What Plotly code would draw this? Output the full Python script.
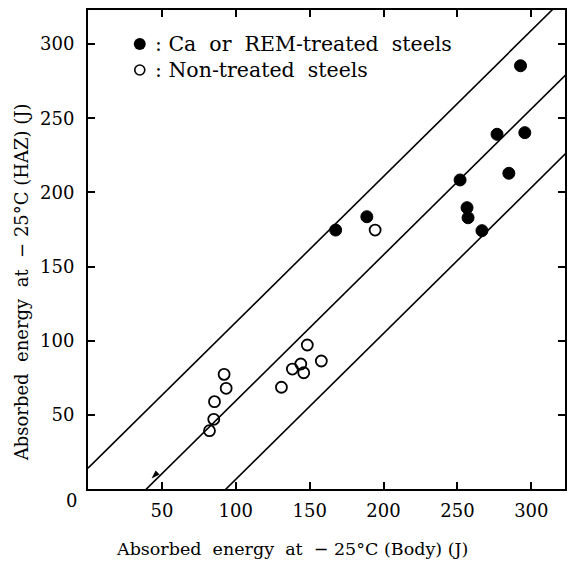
import plotly.graph_objects as go
import numpy as np

# Charpy absorbed energy at -25 degC: base metal (Body) vs. heat-affected zone (HAZ)
treated_body = [167.6, 188.7, 251.8, 256.5, 257.2, 266.6, 276.8, 284.8, 292.7, 295.6]
treated_haz = [174.6, 183.6, 208.4, 189.7, 182.9, 174.2, 239.2, 212.9, 285.4, 240.3]

untreated_body = [82.2, 85.1, 85.6, 92.1, 93.5, 130.9, 138.3, 144.0, 146.0, 148.4, 157.9, 194.3]
untreated_haz = [39.3, 47.0, 58.9, 77.3, 67.9, 68.6, 80.9, 84.3, 78.4, 97.1, 86.3, 174.6]

# Scatter band: three parallel guide lines  HAZ = slope * Body + intercept
band_slope = 0.984
band_intercepts = [14.0, -38.9, -91.9]

# Marked specimen on the central guide line
marked_body = [43.0]
marked_haz = [7.0]

tick_values = [50, 100, 150, 200, 250, 300]
tick_labels = ["50", "100", "150", "200", "250", "300"]

legend_labels = [": Ca  or  REM-treated  steels", ": Non-treated  steels"]

x_max = 322.8
y_max = 323.0

FONT = "DejaVu Serif"
INK = "black"

# plot-area geometry in pixels (for placing key and titles)
L, R, T, B = 88, 4, 10, 75
W, H = 571, 564
PW, PH = W - L - R, H - T - B


def px_x(px):
    return (px - L) / PW


def px_y(py):
    return (H - B - py) / PH


fig = go.Figure()

xs = np.array([0.0, 340.0])
for b in band_intercepts:
    fig.add_trace(go.Scatter(
        x=xs, y=band_slope * xs + b, mode="lines",
        line=dict(color=INK, width=1.6),
        showlegend=False, hoverinfo="skip",
    ))

fig.add_trace(go.Scatter(
    x=treated_body, y=treated_haz, mode="markers",
    marker=dict(symbol="circle", size=12, color=INK, line=dict(color=INK, width=1)),
    showlegend=False,
))
fig.add_trace(go.Scatter(
    x=untreated_body, y=untreated_haz, mode="markers",
    marker=dict(symbol="circle-open", size=11, color=INK, line=dict(color=INK, width=1.8)),
    showlegend=False,
))
fig.add_trace(go.Scatter(
    x=marked_body, y=marked_haz, mode="markers",
    marker=dict(symbol="arrow", size=9, angle=225, color=INK),
    showlegend=False, hoverinfo="skip",
))

# key symbols drawn on an overlay axis in plot-fraction units
key_y = [px_y(44), px_y(70)]
fig.add_trace(go.Scatter(
    x=[px_x(140)], y=[key_y[0]], xaxis="x2", yaxis="y2", mode="markers",
    marker=dict(symbol="circle", size=12, color=INK),
    showlegend=False, hoverinfo="skip",
))
fig.add_trace(go.Scatter(
    x=[px_x(140)], y=[key_y[1]], xaxis="x2", yaxis="y2", mode="markers",
    marker=dict(symbol="circle-open", size=10, color=INK, line=dict(color=INK, width=1.6)),
    showlegend=False, hoverinfo="skip",
))
for label, ky in zip(legend_labels, key_y):
    fig.add_annotation(
        text=label, xref="paper", yref="paper", x=px_x(153), y=ky,
        showarrow=False, xanchor="left", yanchor="middle",
        font=dict(family=FONT, size=20.5, color=INK),
    )

axis_common = dict(
    showline=True, linecolor=INK, linewidth=2, mirror="ticks",
    ticks="inside", ticklen=7, tickwidth=1.5, tickcolor=INK,
    showgrid=False, zeroline=False,
    tickvals=tick_values, ticktext=tick_labels,
    tickfont=dict(family=FONT, size=18, color=INK),
)

fig.update_xaxes(range=[0, x_max], ticklabelstandoff=4, **axis_common)
fig.update_yaxes(range=[0, y_max], ticklabelstandoff=8, **axis_common)

fig.update_layout(
    xaxis2=dict(overlaying="x", range=[0, 1], visible=False),
    yaxis2=dict(overlaying="y", range=[0, 1], visible=False),
)

fig.add_annotation(
    text="0", xref="paper", yref="paper", x=px_x(71), y=px_y(500),
    showarrow=False, xanchor="center", yanchor="middle",
    font=dict(family=FONT, size=18, color=INK),
)
fig.add_annotation(
    text="Absorbed  energy  at  \u2212 25\u00b0C (Body) (J)",
    xref="paper", yref="paper", x=px_x(293), y=px_y(549),
    showarrow=False, xanchor="center", yanchor="middle",
    font=dict(family=FONT, size=17.5, color=INK),
)
fig.add_annotation(
    text="Absorbed  energy  at  \u2212 25\u00b0C (HAZ) (J)",
    xref="paper", yref="paper", x=px_x(21), y=px_y(282),
    showarrow=False, xanchor="center", yanchor="middle", textangle=-90,
    font=dict(family=FONT, size=18, color=INK),
)

fig.update_layout(
    width=W, height=H,
    margin=dict(l=L, r=R, t=T, b=B),
    paper_bgcolor="white", plot_bgcolor="white",
    showlegend=False,
)

fig.write_html("out.html")
